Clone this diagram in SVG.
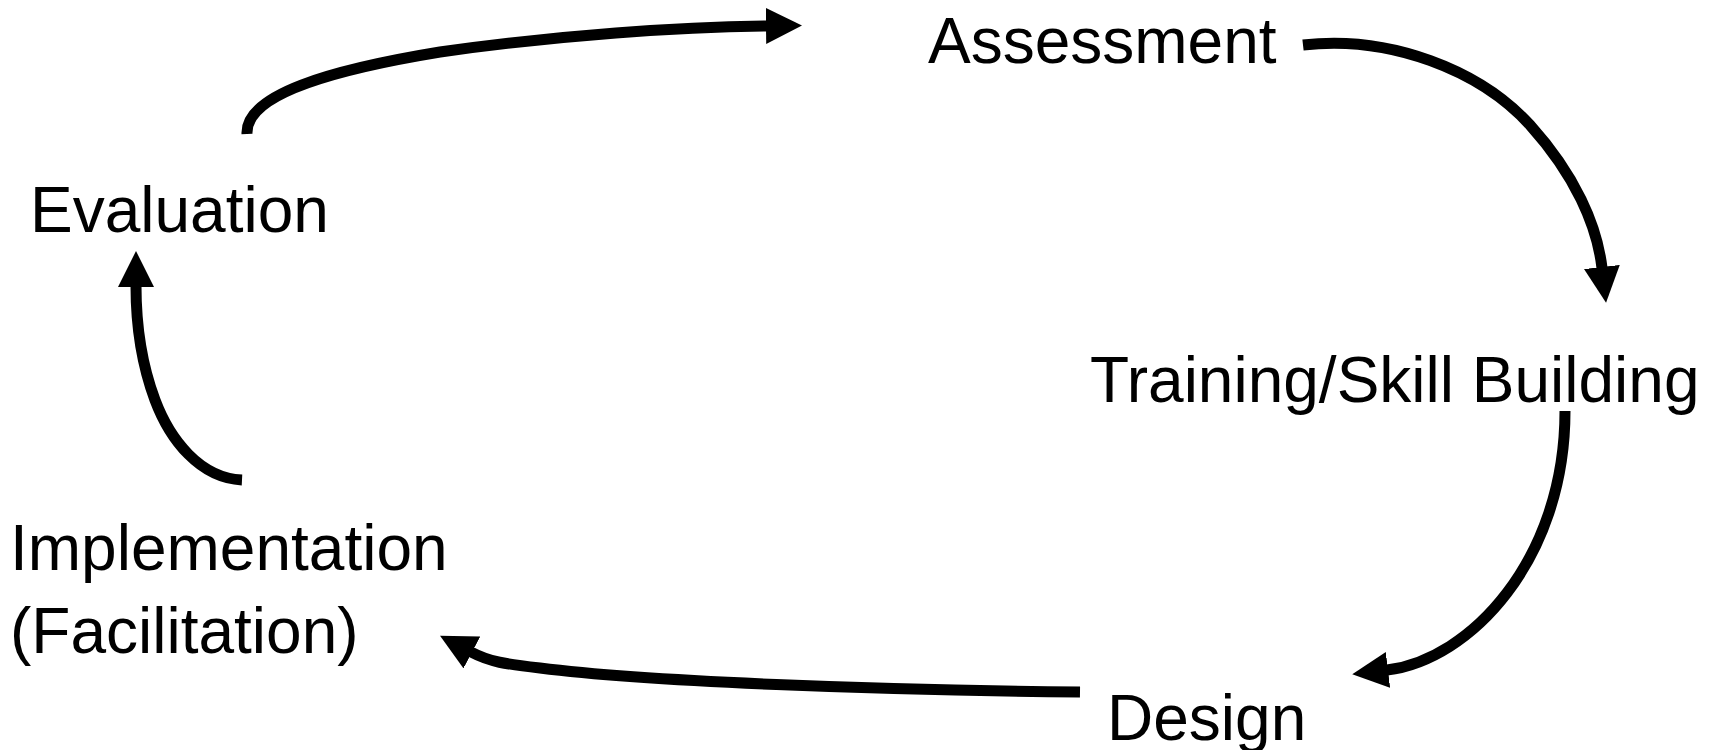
<svg xmlns="http://www.w3.org/2000/svg" width="1718" height="750" viewBox="0 0 1718 750">
<style>
.lbl{font-family:"Liberation Sans",Arial,sans-serif;font-size:64px;fill:#000}
.conn{fill:none;stroke:#000;stroke-width:11;marker-end:url(#ah)}
</style>
<defs>
<marker id="ah" markerUnits="userSpaceOnUse" markerWidth="36" markerHeight="36" viewBox="0 0 36 36" refX="1" refY="18" orient="auto">
<path d="M0,0 L36,18 L0,36 z" fill="#000"/>
</marker>
</defs>
<rect width="1718" height="750" fill="#fff"/>
<g id="connectors">
<path class="conn" d="M247,134 C245,95 330,70 440,52 C560,35 680,27 767,26"/>
<path class="conn" d="M1303,45 C1390,35 1480,70 1530,125 C1575,175 1597,225 1602,268"/>
<path class="conn" d="M1565,411 C1565,560 1470,660 1387,670"/>
<path class="conn" d="M1080,692 C880,690 650,682 540,668 C505,664 490,662 471,652"/>
<path class="conn" d="M242,480 C200,478 170,440 155,400 C140,360 136,320 136,286"/>
</g>
<g id="assessment"><text class="lbl" x="928" y="63">Assessment</text></g>
<g id="training"><text class="lbl" x="1090" y="402">Training/Skill Building</text></g>
<g id="design"><text class="lbl" x="1107" y="740">Design</text></g>
<g id="implementation"><text class="lbl" x="10" y="570">Implementation</text><text class="lbl" x="10" y="653">(Facilitation)</text></g>
<g id="evaluation"><text class="lbl" x="30" y="232">Evaluation</text></g>
</svg>
